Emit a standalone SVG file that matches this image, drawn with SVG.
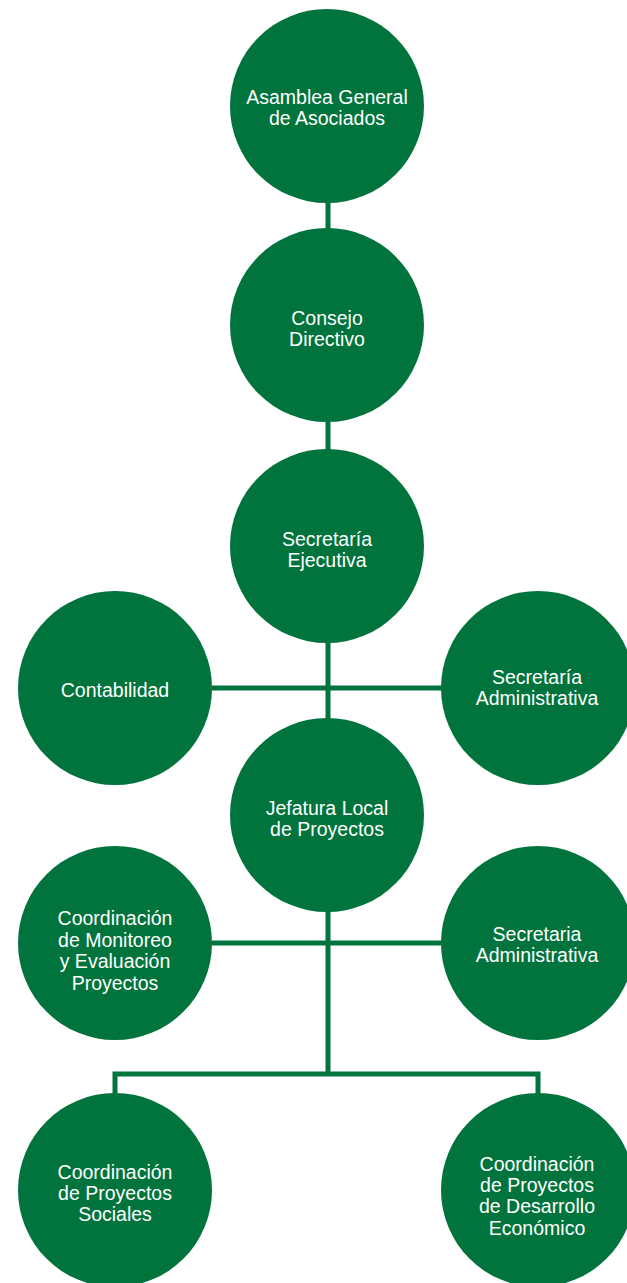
<svg xmlns="http://www.w3.org/2000/svg" width="627" height="1283" viewBox="0 0 627 1283">
<style>
.n{fill:#00743C}
.t{fill:#fff;font-family:"Liberation Sans",Arial,sans-serif;font-size:19.5px;text-anchor:middle}
.c{stroke:#00743C;stroke-width:5;fill:none}
</style>
<rect width="627" height="1283" fill="#fff"/>
<g id="connectors">
<path class="c" d="M328 200V235M328 418V455M328 640V725M212 688H444M328 908V1074M212 943H444M115 1074H538M115 1071.5V1100M538 1071.5V1100"/>
</g>
<g id="asamblea"><circle class="n" cx="327" cy="106" r="97"/><text class="t" x="327" y="104">Asamblea General</text><text class="t" x="327" y="125">de Asociados</text></g>
<g id="consejo"><circle class="n" cx="327" cy="325" r="97"/><text class="t" x="327" y="325">Consejo</text><text class="t" x="327" y="346">Directivo</text></g>
<g id="secretaria-ejecutiva"><circle class="n" cx="327" cy="546" r="97"/><text class="t" x="327" y="546">Secretaría</text><text class="t" x="327" y="567">Ejecutiva</text></g>
<g id="contabilidad"><circle class="n" cx="115" cy="688" r="97"/><text class="t" x="115" y="697">Contabilidad</text></g>
<g id="secretaria-administrativa-1"><circle class="n" cx="538" cy="688" r="97"/><text class="t" x="537" y="684">Secretaría</text><text class="t" x="537" y="705">Administrativa</text></g>
<g id="jefatura"><circle class="n" cx="327" cy="815" r="97"/><text class="t" x="327" y="815">Jefatura Local</text><text class="t" x="327" y="836">de Proyectos</text></g>
<g id="monitoreo"><circle class="n" cx="115" cy="943" r="97"/><text class="t" x="115" y="925">Coordinación</text><text class="t" x="115" y="947">de Monitoreo</text><text class="t" x="115" y="968">y Evaluación</text><text class="t" x="115" y="990">Proyectos</text></g>
<g id="secretaria-administrativa-2"><circle class="n" cx="538" cy="943" r="97"/><text class="t" x="537" y="941">Secretaria</text><text class="t" x="537" y="962">Administrativa</text></g>
<g id="sociales"><circle class="n" cx="115" cy="1190" r="97"/><text class="t" x="115" y="1179">Coordinación</text><text class="t" x="115" y="1200">de Proyectos</text><text class="t" x="115" y="1221">Sociales</text></g>
<g id="desarrollo"><circle class="n" cx="538" cy="1190" r="97"/><text class="t" x="537" y="1171">Coordinación</text><text class="t" x="537" y="1192">de Proyectos</text><text class="t" x="537" y="1213">de Desarrollo</text><text class="t" x="537" y="1235">Económico</text></g>
</svg>
